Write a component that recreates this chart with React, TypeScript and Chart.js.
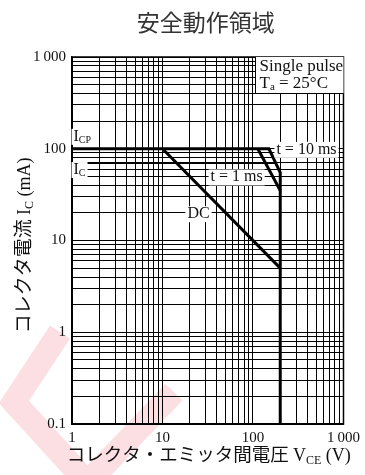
import React, { useEffect, useRef } from 'react';
import { Chart, registerables } from 'chart.js';

Chart.register(...registerables);

// ---- axis ticks ----
const xTickValues = [1, 10, 100, 1000];
const xTickLabels = ['1', '10', '100', '1\u2009000'];
const yTickValues = [0.1, 1, 10, 100, 1000];
const yTickLabels = ['0.1', '1', '10', '100', '1\u2009000'];

// ---- series (V_CE in V, I_C in mA) ----
const t10V = [1, 150, 200, 200];
const t10I = [100, 100, 55, 0.1];
const t1V = [113, 200];
const t1I = [100, 35];
const dcV = [10, 200];
const dcI = [100, 5];
const icV = [1, 178];
const icI = [70, 70];

const SERIF = '"Liberation Serif", "Times New Roman", serif';
const CJK = '"Noto Sans CJK JP", sans-serif';

function decadeGrid(min: number, max: number) {
  const out: number[] = [];
  for (let d = min; d < max * 0.999; d *= 10) {
    for (let k = 1; k <= 9; k++) out.push(k * d);
  }
  out.push(max);
  return out;
}

function tickLabel(v: number, vals: number[], labels: string[]) {
  for (let i = 0; i < vals.length; i++) {
    if (Math.abs(Math.log10(v) - Math.log10(vals[i])) < 1e-6) return labels[i];
  }
  return '';
}

type Part = { t: string; f: string; dy?: number };

function drawParts(
  ctx: CanvasRenderingContext2D,
  parts: Part[],
  x: number,
  y: number,
  align: 'left' | 'center',
  bg?: { up: number; down: number },
  color = '#111'
) {
  ctx.save();
  ctx.textBaseline = 'alphabetic';
  ctx.textAlign = 'left';
  const widths = parts.map((p) => {
    ctx.font = p.f;
    return ctx.measureText(p.t).width;
  });
  const total = widths.reduce((a, b) => a + b, 0);
  let sx = align === 'center' ? x - total / 2 : x;
  if (bg) {
    ctx.fillStyle = '#fff';
    ctx.fillRect(sx - 2, y - bg.up, total + 4, bg.up + bg.down);
  }
  ctx.fillStyle = color;
  parts.forEach((p, i) => {
    ctx.font = p.f;
    ctx.fillText(p.t, sx, y + (p.dy || 0));
    sx += widths[i];
  });
  ctx.restore();
}

const decor = {
  id: 'decor',
  beforeDraw(chart: any) {
    const ctx: CanvasRenderingContext2D = chart.ctx;
    ctx.save();
    ctx.strokeStyle = '#fcdfe3';
    ctx.lineWidth = 24;
    ctx.lineJoin = 'miter';
    ctx.lineCap = 'butt';
    ctx.beginPath();
    ctx.moveTo(60, 332);
    ctx.lineTo(14, 402);
    ctx.lineTo(85, 480);
    ctx.stroke();
    ctx.beginPath();
    ctx.moveTo(174, 392);
    ctx.lineTo(90, 480);
    ctx.stroke();
    ctx.restore();
  },
  afterDatasetsDraw(chart: any) {
    const ctx: CanvasRenderingContext2D = chart.ctx;
    const a = chart.chartArea;
    const xs = chart.scales.x;
    const ys = chart.scales.y;
    const px = (v: number) => xs.getPixelForValue(v);
    const py = (v: number) => ys.getPixelForValue(v);

    // frame
    ctx.save();
    ctx.strokeStyle = '#000';
    ctx.lineWidth = 1.5;
    ctx.strokeRect(a.left, a.top, a.right - a.left, a.bottom - a.top);
    ctx.restore();

    const f16 = `16px ${SERIF}`;
    const f17 = `17px ${SERIF}`;
    const f10 = `10px ${SERIF}`;
    const f11 = `11px ${SERIF}`;

    // condition box
    const boxL = Math.round(px(106)) + 0.5;
    const boxB = Math.round(py(410)) + 0.5;
    ctx.save();
    ctx.fillStyle = '#fff';
    ctx.fillRect(boxL, a.top, a.right - boxL, boxB - a.top);
    ctx.strokeStyle = '#000';
    ctx.lineWidth = 1;
    ctx.beginPath();
    ctx.moveTo(boxL, a.top);
    ctx.lineTo(boxL, boxB);
    ctx.lineTo(a.right, boxB);
    ctx.stroke();
    ctx.restore();
    drawParts(ctx, [{ t: 'Single pulse', f: f17 }], boxL + 4, a.top + 14, 'left');
    drawParts(
      ctx,
      [
        { t: 'T', f: f17 },
        { t: 'a', f: f11, dy: 2 },
        { t: ' = 25°C', f: f17 },
      ],
      boxL + 4,
      a.top + 31,
      'left'
    );

    const bg = { up: 12, down: 4 };
    // I_CP
    drawParts(
      ctx,
      [
        { t: 'I', f: f16 },
        { t: 'CP', f: f10, dy: 2 },
      ],
      px(1.04),
      py(122),
      'left',
      bg
    );
    // I_C
    drawParts(
      ctx,
      [
        { t: 'I', f: f16 },
        { t: 'C', f: f10, dy: 2 },
      ],
      px(1.04),
      py(53),
      'left',
      bg
    );
    // t = 10 ms
    drawParts(ctx, [{ t: 't = 10 ms', f: f16 }], px(390), py(88), 'center', bg);
    // t = 1 ms
    drawParts(ctx, [{ t: 't = 1 ms', f: f16 }], px(66), py(44), 'center', bg);
    // DC
    drawParts(ctx, [{ t: 'DC', f: f16 }], px(25), py(17.5), 'center', bg);
  },
  afterDraw(chart: any) {
    const ctx: CanvasRenderingContext2D = chart.ctx;
    const a = chart.chartArea;
    const cx = (a.left + a.right) / 2;
    // main title
    drawParts(ctx, [{ t: '安全動作領域', f: `23px ${CJK}` }], cx - 2, 31, 'center', undefined, '#333');
    // x title
    drawParts(
      ctx,
      [
        { t: 'コレクタ・エミッタ間電圧 ', f: `18.5px ${CJK}` },
        { t: 'V', f: `18px ${SERIF}` },
        { t: 'CE', f: `12px ${SERIF}`, dy: 3 },
        { t: ' (V)', f: `18px ${SERIF}` },
      ],
      cx + 1,
      461,
      'center'
    );
    // y title
    ctx.save();
    ctx.translate(30, (a.top + a.bottom) / 2 + 5);
    ctx.rotate(-Math.PI / 2);
    drawParts(
      ctx,
      [
        { t: 'コレクタ電流 ', f: `19px ${CJK}` },
        { t: 'I', f: `18px ${SERIF}` },
        { t: 'C', f: `12px ${SERIF}`, dy: 3 },
        { t: ' (mA)', f: `18px ${SERIF}` },
      ],
      0,
      0,
      'center'
    );
    ctx.restore();
  },
};

function mk(xv: number[], yv: number[], w: number) {
  return {
    data: xv.map((x, i) => ({ x, y: yv[i] })),
    showLine: true,
    borderColor: '#000',
    backgroundColor: '#000',
    borderWidth: w,
    pointRadius: 0,
    fill: false,
    tension: 0,
    borderJoinStyle: 'miter' as const,
  };
}

export default function App() {
  const ref = useRef<HTMLCanvasElement>(null);
  useEffect(() => {
    const canvas = ref.current!;
    const xGrid = decadeGrid(1, 1000);
    const yGrid = decadeGrid(0.1, 1000);
    const chart = new Chart(canvas, {
      type: 'scatter',
      data: {
        datasets: [mk(t10V, t10I, 3), mk(t1V, t1I, 3), mk(dcV, dcI, 3), mk(icV, icI, 2)] as any,
      },
      options: {
        responsive: false,
        animation: false,
        devicePixelRatio: 1,
        layout: { padding: { left: 0, top: 57, right: 19, bottom: 0 } },
        plugins: {
          legend: { display: false },
          tooltip: { enabled: false },
          title: { display: false },
        },
        scales: {
          x: {
            type: 'logarithmic',
            min: 1,
            max: 1000,
            afterBuildTicks: (s: any) => {
              s.ticks = xGrid.map((v) => ({ value: v }));
            },
            afterFit: (s: any) => {
              s.height = 51;
            },
            ticks: {
              autoSkip: false,
              maxRotation: 0,
              minRotation: 0,
              padding: 5,
              color: '#111',
              font: { family: SERIF, size: 15 },
              callback: (v: any) => tickLabel(Number(v), xTickValues, xTickLabels),
            },
            grid: { color: '#000', lineWidth: 1, drawTicks: false },
            border: { display: true, color: '#000', width: 1.5 },
          },
          y: {
            type: 'logarithmic',
            min: 0.1,
            max: 1000,
            afterBuildTicks: (s: any) => {
              s.ticks = yGrid.map((v) => ({ value: v }));
            },
            afterFit: (s: any) => {
              s.width = 72;
            },
            ticks: {
              autoSkip: false,
              padding: 6,
              color: '#111',
              font: { family: SERIF, size: 15 },
              callback: (v: any) => tickLabel(Number(v), yTickValues, yTickLabels),
            },
            grid: { color: '#000', lineWidth: 1, drawTicks: false },
            border: { display: true, color: '#000', width: 1.5 },
          },
        },
      } as any,
      plugins: [decor],
    });
    return () => chart.destroy();
  }, []);
  return (
    <div style={{ position: 'absolute', left: 0, top: 0, width: 365, height: 475, background: '#fff' }}>
      <canvas ref={ref} width={365} height={475} style={{ display: 'block' }} />
    </div>
  );
}
